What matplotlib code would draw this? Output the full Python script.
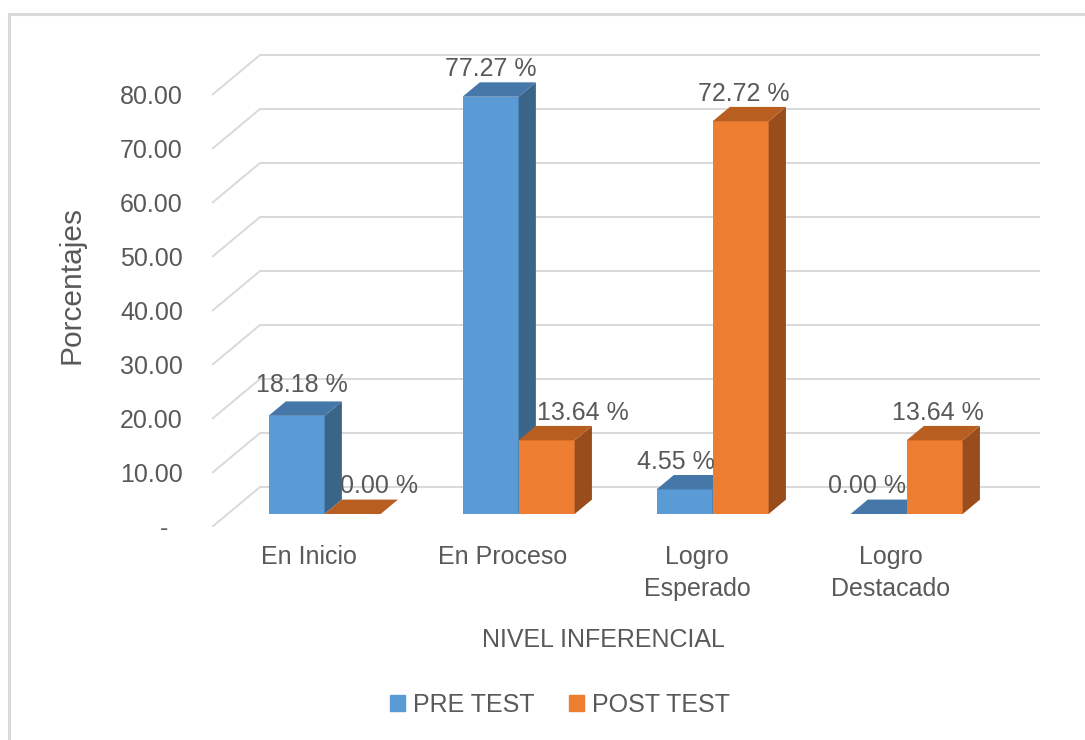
import matplotlib.pyplot as plt
from matplotlib.patches import Polygon, Rectangle

categories = ['En Inicio', 'En Proceso', 'Logro\nEsperado', 'Logro\nDestacado']
pre_test = [18.18, 77.27, 4.55, 0.00]
post_test = [0.00, 13.64, 72.72, 13.64]
y_ticks = [0, 10, 20, 30, 40, 50, 60, 70, 80]
series_names = ['PRE TEST', 'POST TEST']

# look of the fake 3d box, in data units
DX, DY = 0.2474, 7.41        # full depth of the box
F0, F1 = 0.325, 0.685        # front / back of the bars as a share of the depth
BAR_W = 0.289
BACK_END = 3.768
LABEL_NUDGE = [(5, 2), (26, 0), (0, 0), (36, 0), (-9, 0), (3, 0), (-12, 0), (3, 0)]

COLORS = {
    'PRE TEST': ('#5B9BD5', '#4577A8', '#3A6589'),
    'POST TEST': ('#ED7D31', '#B95E21', '#994D1C'),
}
TEXT = '#595959'
GRID = '#D9D9D9'

plt.rcParams['font.family'] = ['Liberation Sans', 'DejaVu Sans']

fig = plt.figure(figsize=(10.85, 7.40), dpi=100)
W, H = 1085, 740
left, right, top, bottom = 212, 1045, 40, 527
ax = fig.add_axes([left / W, 1 - bottom / H, (right - left) / W, (bottom - top) / H])
ax.set_xlim(-0.5, -0.5 + (right - left) / 194)
ax.set_ylim(0, (bottom - top) / 5.4)
for s in ax.spines.values():
    s.set_visible(False)

# gridlines on the floor edge + back wall
for v in y_ticks:
    ax.plot([-0.5, -0.5 + DX, BACK_END], [v, v + DY, v + DY], color=GRID, lw=1.4,
            zorder=1, solid_capstyle='butt')

ddx, ddy = (F1 - F0) * DX, (F1 - F0) * DY
base = F0 * DY
z = 2
labels = []
for i in range(len(categories)):
    for k, (name, vals) in enumerate(zip(series_names, [pre_test, post_test])):
        front, topc, side = COLORS[name]
        v = vals[i]
        xl = i + F0 * DX - BAR_W + k * BAR_W
        xr = xl + BAR_W
        yt = base + v
        ax.bar(xl, v, width=BAR_W, bottom=base, align='edge', color=front, zorder=z)
        ax.add_patch(Polygon([(xr, base), (xr + ddx, base + ddy), (xr + ddx, yt + ddy), (xr, yt)],
                             closed=True, facecolor=side, edgecolor='none', zorder=z))
        ax.add_patch(Polygon([(xl, yt), (xr, yt), (xr + ddx, yt + ddy), (xl + ddx, yt + ddy)],
                             closed=True, facecolor=topc, edgecolor='none', zorder=z))
        z += 1
        labels.append(((xl + xr) / 2, yt, v))

for (x, y, v), (nx, ny) in zip(labels, LABEL_NUDGE):
    ax.annotate(f'{v:.2f} %', (x, y), xytext=(nx * 0.72, 20 + ny), textcoords='offset points',
                ha='center', va='center', fontsize=18, color=TEXT, zorder=50)

ax.set_yticks(y_ticks)
ax.set_yticklabels(['-  ' if t == 0 else f'{t:.2f}' for t in y_ticks])
ax.set_xticks(range(len(categories)))
ax.set_xticklabels(categories, va='top', linespacing=1.4)
ax.tick_params(axis='y', length=0, pad=21, labelsize=18, labelcolor=TEXT)
ax.tick_params(axis='x', length=0, pad=13, labelsize=18, labelcolor=TEXT)

fig.text(603 / W, 1 - 640 / H, 'NIVEL INFERENCIAL', ha='center', va='center', fontsize=18, color=TEXT)
fig.text(71 / W, 1 - 285 / H, 'Porcentajes', ha='center', va='center', rotation=90,
         fontsize=21.5, color=TEXT)

handles = [Rectangle((0, 0), 1, 1, color=COLORS[n][0]) for n in series_names]
fig.legend(handles, series_names, loc='center', bbox_to_anchor=(560 / W, 1 - 705 / H), ncol=2,
           frameon=False, fontsize=18, labelcolor=TEXT, handlelength=0.6, handleheight=0.6,
           handletextpad=0.3, columnspacing=1.4)

# chart area border
fig.add_artist(Rectangle((9 / W, -0.1), 1.2, 1 - 14 / H + 0.1, transform=fig.transFigure,
                         fill=False, edgecolor='#D9D9D9', lw=2.2))

fig.savefig('out.png', dpi=100)
